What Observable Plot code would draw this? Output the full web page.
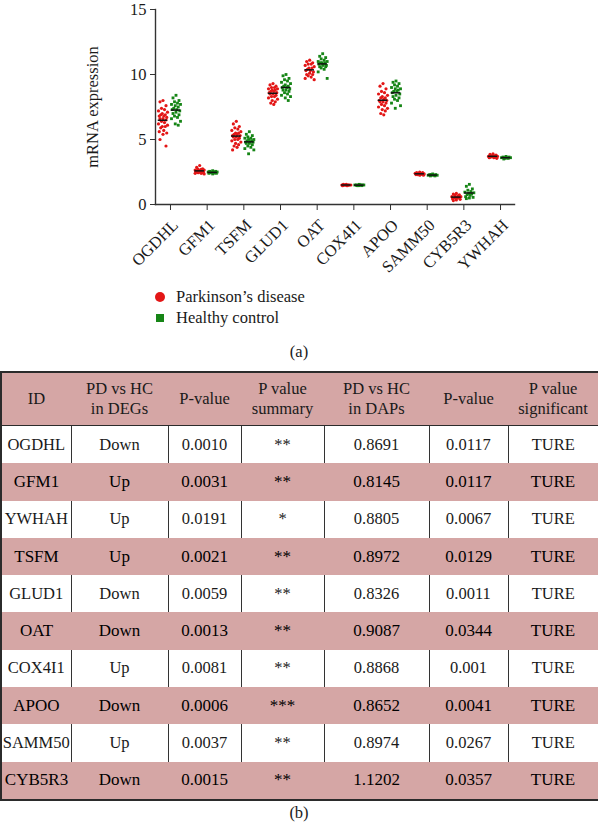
<!DOCTYPE html>
<html>
<head>
<meta charset="utf-8">
<script src="https://cdn.jsdelivr.net/npm/d3@7"></script>
<script src="https://cdn.jsdelivr.net/npm/@observablehq/plot@0.6"></script>
<style>
  html, body { margin: 0; padding: 0; background: #fff; }
  body { width: 598px; height: 826px; position: relative; overflow: hidden; font-family: "Liberation Serif", "DejaVu Serif", serif; color: #1a1a1a; }
  #chart { position: absolute; left: 0; top: 0; }
  .abs { position: absolute; white-space: nowrap; font-size: 16.5px; }
  .leg-dot { position: absolute; width: 10px; height: 10px; border-radius: 50%; background: #e31616; }
  .leg-sq { position: absolute; width: 8px; height: 8px; background: #168516; }
  table { position: absolute; left: 0; top: 371px; border-collapse: collapse; table-layout: fixed; width: 598px; font-size: 16.5px; }
  td { text-align: center; vertical-align: middle; padding: 0; }
  tr.head td { background: #d5a6a5; height: 52px; line-height: 20px; border-top: 2px solid #2b2b2b; border-bottom: 1.5px solid #2b2b2b; }
  tr.pink td { background: #d5a6a5; height: 37.3px; color: #000; font-size: 17px; }
  tr.white td { background: #fff; height: 37.3px; border-left: 1.5px solid #333; border-right: 1.5px solid #333; }
  tr td:first-child { border-left: 2px solid #2b2b2b; }
  tr td:last-child { border-right: 2px solid #2b2b2b; }
  tr:last-child td { border-bottom: 2px solid #2b2b2b; }
</style>
</head>
<body>
<div id="chart"></div>
<div class="leg-dot" style="left:155px; top:292px;"></div>
<div class="abs" style="left:176px; top:287px; line-height:20px;">Parkinson’s disease</div>
<div class="leg-sq" style="left:156px; top:314px;"></div>
<div class="abs" style="left:176px; top:308px; line-height:20px;">Healthy control</div>
<div class="abs" style="left:0; width:598px; text-align:center; top:342px; line-height:20px;">(a)</div>
<table id="tbl"></table>
<div class="abs" style="left:0; width:598px; text-align:center; top:803px; line-height:20px;">(b)</div>
<script>
// ---------- chart (a) data ----------
const genes = ["OGDHL", "GFM1", "TSFM", "GLUD1", "OAT", "COX4I1", "APOO", "SAMM50", "CYB5R3", "YWHAH"];
const groups = ["Parkinson’s disease", "Healthy control"];

const OGDHL_PD = [8.0, 7.9, 7.6, 7.4, 7.3, 7.2, 7.1, 7.0, 6.9, 6.9, 6.8, 6.8, 6.7, 6.6, 6.6, 6.5, 6.4, 6.3, 6.2, 6.1, 6.0, 6.0, 5.9, 5.7, 5.6, 5.5, 5.4, 5.0, 4.5];
const OGDHL_HC = [8.4, 8.2, 8.0, 7.9, 7.8, 7.7, 7.7, 7.6, 7.5, 7.4, 7.3, 7.3, 7.2, 7.1, 7.0, 6.9, 6.8, 6.7, 6.6, 6.4, 6.2, 6.1];
const GFM1_PD = [3.0, 2.85, 2.75, 2.7, 2.7, 2.65, 2.65, 2.6, 2.6, 2.6, 2.55, 2.55, 2.5, 2.5, 2.5, 2.45, 2.45, 2.4, 2.4, 2.35];
const GFM1_HC = [2.6, 2.55, 2.55, 2.5, 2.5, 2.5, 2.5, 2.45, 2.45, 2.45, 2.4, 2.4, 2.4, 2.35];
const TSFM_PD = [6.4, 6.2, 6.0, 5.9, 5.8, 5.7, 5.6, 5.5, 5.5, 5.4, 5.4, 5.3, 5.3, 5.2, 5.2, 5.1, 5.0, 5.0, 4.9, 4.8, 4.7, 4.6, 4.5, 4.4, 4.2];
const TSFM_HC = [5.6, 5.4, 5.3, 5.2, 5.1, 5.1, 5.0, 5.0, 4.9, 4.9, 4.8, 4.8, 4.8, 4.7, 4.7, 4.6, 4.5, 4.4, 4.3, 4.2, 3.9];
const GLUD1_PD = [9.3, 9.2, 9.1, 9.0, 9.0, 8.9, 8.9, 8.8, 8.8, 8.7, 8.7, 8.6, 8.6, 8.5, 8.5, 8.4, 8.3, 8.3, 8.2, 8.1, 8.0, 7.9, 7.8, 7.7];
const GLUD1_HC = [10.0, 9.9, 9.7, 9.6, 9.5, 9.4, 9.3, 9.2, 9.1, 9.1, 9.0, 9.0, 8.9, 8.8, 8.8, 8.7, 8.6, 8.5, 8.4, 8.3, 8.2, 8.0];
const OAT_PD = [11.1, 11.0, 10.9, 10.8, 10.8, 10.7, 10.6, 10.5, 10.5, 10.4, 10.3, 10.3, 10.2, 10.1, 10.0, 10.0, 9.9, 9.8, 9.7, 9.6];
const OAT_HC = [11.6, 11.4, 11.3, 11.2, 11.1, 11.0, 11.0, 10.9, 10.9, 10.9, 10.8, 10.8, 10.7, 10.7, 10.6, 10.6, 10.5, 10.4, 10.2, 9.7];
const COX4I1_PD = [1.55, 1.55, 1.5, 1.5, 1.5, 1.5, 1.5, 1.5, 1.5, 1.5, 1.45, 1.45];
const COX4I1_HC = [1.55, 1.5, 1.5, 1.5, 1.5, 1.5, 1.5, 1.45, 1.45, 1.45];
const APOO_PD = [9.3, 9.1, 8.9, 8.7, 8.6, 8.5, 8.4, 8.3, 8.2, 8.2, 8.1, 8.0, 8.0, 7.9, 7.9, 7.8, 7.7, 7.6, 7.5, 7.4, 7.3, 7.2, 7.0, 6.9];
const APOO_HC = [9.5, 9.4, 9.3, 9.2, 9.1, 9.0, 8.9, 8.9, 8.8, 8.7, 8.7, 8.6, 8.5, 8.4, 8.3, 8.2, 8.1, 8.0, 7.8, 7.6, 7.4];
const SAMM50_PD = [2.5, 2.45, 2.45, 2.4, 2.4, 2.4, 2.35, 2.35, 2.35, 2.3, 2.3, 2.3, 2.25, 2.25];
const SAMM50_HC = [2.35, 2.3, 2.3, 2.3, 2.25, 2.25, 2.25, 2.25, 2.2, 2.2];
const CYB5R3_PD = [0.85, 0.8, 0.75, 0.7, 0.65, 0.6, 0.6, 0.55, 0.55, 0.5, 0.5, 0.45, 0.4, 0.35, 0.3];
const CYB5R3_HC = [1.55, 1.4, 1.2, 1.1, 1.0, 0.95, 0.9, 0.85, 0.8, 0.75, 0.7, 0.6, 0.55, 0.5, 0.45];
const YWHAH_PD = [3.9, 3.85, 3.8, 3.75, 3.75, 3.7, 3.7, 3.7, 3.65, 3.65, 3.6, 3.6, 3.55];
const YWHAH_HC = [3.7, 3.65, 3.65, 3.6, 3.6, 3.6, 3.6, 3.55, 3.55, 3.5];

const yTicks = [0, 5, 10, 15];

// ---------- table (b) data ----------
const tableHeader = ["ID", "PD vs HC<br>in DEGs", "P-value", "P value<br>summary", "PD vs HC<br>in DAPs", "P-value", "P value<br>significant"];
const tableIds = ["OGDHL", "GFM1", "YWHAH", "TSFM", "GLUD1", "OAT", "COX4I1", "APOO", "SAMM50", "CYB5R3"];
const degDirection = ["Down", "Up", "Up", "Up", "Down", "Down", "Up", "Down", "Up", "Down"];
const degP = ["0.0010", "0.0031", "0.0191", "0.0021", "0.0059", "0.0013", "0.0081", "0.0006", "0.0037", "0.0015"];
const pSummary = ["**", "**", "*", "**", "**", "**", "**", "***", "**", "**"];
const dapRatio = ["0.8691", "0.8145", "0.8805", "0.8972", "0.8326", "0.9087", "0.8868", "0.8652", "0.8974", "1.1202"];
const dapP = ["0.0117", "0.0117", "0.0067", "0.0129", "0.0011", "0.0344", "0.001", "0.0041", "0.0267", "0.0357"];
const dapSig = ["TURE", "TURE", "TURE", "TURE", "TURE", "TURE", "TURE", "TURE", "TURE", "TURE"];
const colWidths = [70, 97, 73, 83, 105, 79, 91];

// ---------- build chart rows ----------
const seriesPD = [OGDHL_PD, GFM1_PD, TSFM_PD, GLUD1_PD, OAT_PD, COX4I1_PD, APOO_PD, SAMM50_PD, CYB5R3_PD, YWHAH_PD];
const seriesHC = [OGDHL_HC, GFM1_HC, TSFM_HC, GLUD1_HC, OAT_HC, COX4I1_HC, APOO_HC, SAMM50_HC, CYB5R3_HC, YWHAH_HC];
const pxPerGene = 36.67;
const groupShift = [-7.5 / pxPerGene, 5.5 / pxPerGene];
const jitterPattern = [0, -3, 3, -1.5, 1.5, -4.5, 4.5, -0.75, 2.25, -2.25, 0.75, -3.75, 3.75];
const points = [];
const means = [];
[seriesPD, seriesHC].forEach((series, g) => {
  series.forEach((vals, i) => {
    vals.forEach((v, k) => {
      points.push({gene: i, group: g, value: v, x: i + groupShift[g] + jitterPattern[k % jitterPattern.length] / pxPerGene});
    });
    means.push({gene: i, group: g, x: i + groupShift[g], mean: d3.mean(vals)});
  });
});

const geneTicks = d3.range(genes.length);
const chart = Plot.plot({
  width: 598,
  height: 275,
  marginLeft: 155,
  marginRight: 84,
  marginTop: 9,
  marginBottom: 71,
  style: {fontFamily: "Liberation Serif, serif", fontSize: "16px", color: "#1a1a1a", background: "white"},
  x: {type: "linear", domain: [-0.409, 9.381]},
  y: {domain: [0, 15]},
  marks: [
    Plot.axisY({ticks: yTicks, tickSize: 5, tickPadding: 4, fontSize: 16.5, label: null, stroke: "#333"}),
    Plot.axisX({ticks: geneTicks, tickSize: 6, tickFormat: () => "", label: null, stroke: "#333"}),
    Plot.axisX({ticks: geneTicks, tickSize: 0, tickPadding: 3, tickFormat: i => genes[i], tickRotate: -45, fontSize: 16.5, label: null, dx: 5, dy: 15}),
    Plot.frame({anchor: "left", stroke: "#333", strokeWidth: 1.4}),
    Plot.frame({anchor: "bottom", stroke: "#333", strokeWidth: 1.4}),
    Plot.text(["mRNA expression"], {text: d => d, frameAnchor: "left", textAnchor: "middle", rotate: -90, dx: -63, fontSize: 16.5}),
    Plot.dot(points.filter(d => d.group === 0), {x: "x", y: "value", r: 1.6, fill: "#e31616", symbol: "circle"}),
    Plot.dot(points.filter(d => d.group === 1), {x: "x", y: "value", r: 1.6, fill: "#168516", symbol: "square"}),
    Plot.ruleY(means, {y: "mean", x1: d => d.x - 0.13, x2: d => d.x + 0.13, stroke: "#111", strokeWidth: 1.5})
  ]
});
document.getElementById("chart").appendChild(chart);

// ---------- build table ----------
const tbl = document.getElementById("tbl");
const cg = document.createElement("colgroup");
colWidths.forEach(w => { const c = document.createElement("col"); c.style.width = w + "px"; cg.appendChild(c); });
tbl.appendChild(cg);
const hr = document.createElement("tr");
hr.className = "head";
tableHeader.forEach(h => { const td = document.createElement("td"); td.innerHTML = h; hr.appendChild(td); });
tbl.appendChild(hr);
tableIds.forEach((id, i) => {
  const tr = document.createElement("tr");
  tr.className = i % 2 === 0 ? "white" : "pink";
  [id, degDirection[i], degP[i], pSummary[i], dapRatio[i], dapP[i], dapSig[i]].forEach(v => {
    const td = document.createElement("td");
    td.textContent = v;
    tr.appendChild(td);
  });
  tbl.appendChild(tr);
});
</script>
</body>
</html>
